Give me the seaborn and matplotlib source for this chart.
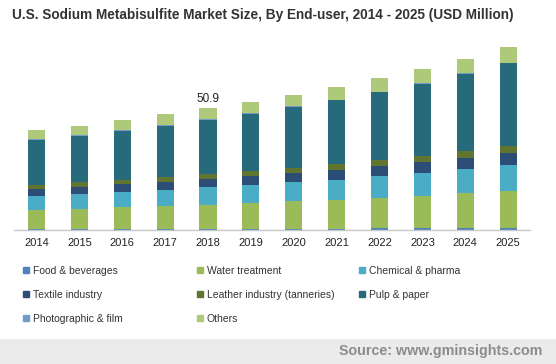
import matplotlib
matplotlib.use("Agg")
import matplotlib.pyplot as plt
from matplotlib.lines import Line2D
import numpy as np
import pandas as pd
import seaborn as sns

years = ["2014", "2015", "2016", "2017", "2018", "2019", "2020", "2021", "2022", "2023", "2024", "2025"]
segments = ["Food & beverages", "Water treatment", "Chemical & pharma", "Textile industry",
            "Leather industry (tanneries)", "Pulp & paper", "Photographic & film", "Others"]
food = [0.4, 0.4, 0.4, 0.4, 0.4, 0.4, 0.4, 0.4, 0.8, 0.8, 0.8, 0.8]
water = [7.9, 8.3, 9.2, 9.6, 10.0, 10.8, 11.7, 12.1, 12.5, 13.4, 14.6, 15.4]
chemical = [5.8, 6.3, 6.3, 6.7, 7.5, 7.5, 7.9, 8.3, 9.2, 9.6, 10.0, 10.8]
textile = [2.9, 2.9, 3.3, 3.3, 3.3, 3.75, 3.75, 4.2, 4.2, 4.6, 4.6, 5.0]
leather = [1.7, 2.1, 1.7, 2.1, 2.1, 2.1, 2.1, 2.5, 2.5, 2.5, 2.9, 2.9]
pulp = [18.8, 19.2, 20.4, 21.3, 22.5, 23.8, 25.5, 26.7, 28.4, 30.0, 32.1, 34.6]
photo = [0.3, 0.4, 0.4, 0.4, 0.4, 0.4, 0.2, 0.2, 0.2, 0.4, 0.4, 0.2]
others = [3.75, 3.75, 4.2, 4.6, 4.6, 4.6, 4.9, 5.3, 5.7, 5.8, 5.8, 6.5]
label_year = "2018"
label_text = "50.9"

series = [food, water, chemical, textile, leather, pulp, photo, others]
colors = ["#4F81BD", "#9BBB59", "#4BACC6", "#2C4D75", "#5F7530", "#276A7B", "#729ACA", "#AFC97A"]

sns.set_theme(style="white")
plt.rcParams["font.family"] = ["Liberation Sans", "DejaVu Sans"]

fig = plt.figure(figsize=(5.56, 3.64), dpi=100)
ax = fig.add_axes([14 / 556, 1 - 230 / 364, (530 - 14) / 556, (230 - 40) / 364])

bottom = np.zeros(len(years))
for name, vals, col in zip(segments, series, colors):
    df = pd.DataFrame({"year": years, "value": vals})
    sns.barplot(data=df, x="year", y="value", order=years, color=col, width=0.40,
                bottom=bottom.copy(), ax=ax, saturation=1, linewidth=0, errorbar=None)
    bottom += np.array(vals)

ax.set_xlim(-0.525, 11.51)
ax.set_ylim(0, 79.3)
ax.set_xlabel("")
ax.set_ylabel("")
ax.set_yticks([])
for s in ["top", "right", "left"]:
    ax.spines[s].set_visible(False)
ax.spines["bottom"].set_color("#c8c8c8")
ax.spines["bottom"].set_linewidth(1.0)
ax.tick_params(axis="x", length=0, labelsize=8, pad=6, colors="#222222")

i = years.index(label_year)
ax.text(i, bottom[i] + 1.5, label_text, ha="center", va="bottom", fontsize=8.5, color="#222222")

fig.text(12 / 556, 1 - 15 / 364, "U.S. Sodium Metabisulfite Market Size, By End-user, 2014 - 2025 (USD Million)",
         ha="left", va="center", fontsize=9.8, fontweight="bold", color="#333333")

# legends, three columns
cols_idx = [[0, 3, 6], [1, 4, 7], [2, 5]]
xs = [23, 197, 359]
for xpos, idxs in zip(xs, cols_idx):
    handles = [Line2D([], [], marker="s", linestyle="none", markersize=5, color=colors[k]) for k in idxs]
    labels = [segments[k] for k in idxs]
    fig.legend(handles, labels, loc="upper left", bbox_to_anchor=(xpos / 556, 1 - 266 / 364),
               frameon=False, fontsize=7.5, handlelength=0.6, handletextpad=0.35,
               labelspacing=1.33, borderaxespad=0, borderpad=0, labelcolor="#333333")

fig.patches.append(plt.Rectangle((0, 0), 1, 25 / 364, transform=fig.transFigure,
                                 facecolor="#ebebeb", edgecolor="none", zorder=0))
fig.text(542 / 556, 12.5 / 364, "Source: www.gminsights.com", ha="right", va="center",
         fontsize=10.3, fontweight="bold", color="#8c8c8c")

fig.savefig("out.png", dpi=100)
